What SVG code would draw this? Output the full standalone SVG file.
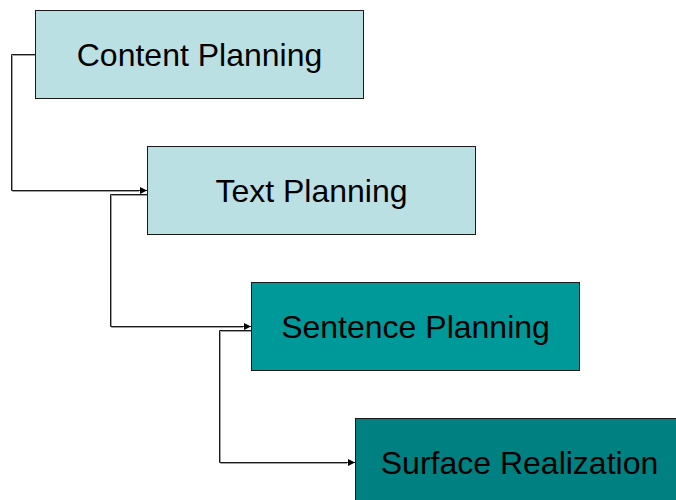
<svg xmlns="http://www.w3.org/2000/svg" width="676" height="500" viewBox="0 0 676 500">
  <style>
    .box { stroke: #1a1a1a; stroke-width: 1; }
    .pale { fill: #bbe0e3; }
    .teal { fill: #009999; }
    .deep { fill: #008080; }
    .label { font-family: "Liberation Sans", Arial, sans-serif; font-size: 32px; fill: #000; text-anchor: middle; }
    .wire { fill: none; stroke: #1a1a1a; stroke-width: 1; }
    .wire-shade { fill: none; stroke: #a0a0a0; stroke-width: 1; }
  </style>
  <defs>
    <marker id="arrow" viewBox="0 0 10 10" refX="10" refY="5" markerWidth="9" markerHeight="7" markerUnits="userSpaceOnUse" orient="auto">
      <path d="M0,0 L10,5 L0,10 Z" fill="#000"/>
    </marker>
  </defs>
  <rect width="676" height="500" fill="#fff"/>

  <g id="connectors">
    <path class="wire-shade" d="M35.5,55.5 H12.5 V191.5 H139"/>
    <path class="wire" d="M35.5,54.5 H11.5 V190.5 H147" marker-end="url(#arrow)"/>
    <path class="wire-shade" d="M147.5,195.5 H111.5 V327.5 H243"/>
    <path class="wire" d="M147.5,194.5 H110.5 V326.5 H251" marker-end="url(#arrow)"/>
    <path class="wire-shade" d="M251.5,331.5 H220.5 V463.5 H347"/>
    <path class="wire" d="M251.5,330.5 H219.5 V462.5 H355" marker-end="url(#arrow)"/>
  </g>

  <g id="content-planning">
    <rect class="box pale" x="35.5" y="10.5" width="328" height="88"/>
    <text class="label" x="199.5" y="66">Content Planning</text>
  </g>

  <g id="text-planning">
    <rect class="box pale" x="147.5" y="146.5" width="328" height="88"/>
    <text class="label" x="311.5" y="202">Text Planning</text>
  </g>

  <g id="sentence-planning">
    <rect class="box teal" x="251.5" y="282.5" width="328" height="88"/>
    <text class="label" x="415.5" y="338">Sentence Planning</text>
  </g>

  <g id="surface-realization">
    <rect class="box deep" x="355.5" y="418.5" width="328" height="88"/>
    <text class="label" x="519.5" y="474">Surface Realization</text>
  </g>
</svg>
